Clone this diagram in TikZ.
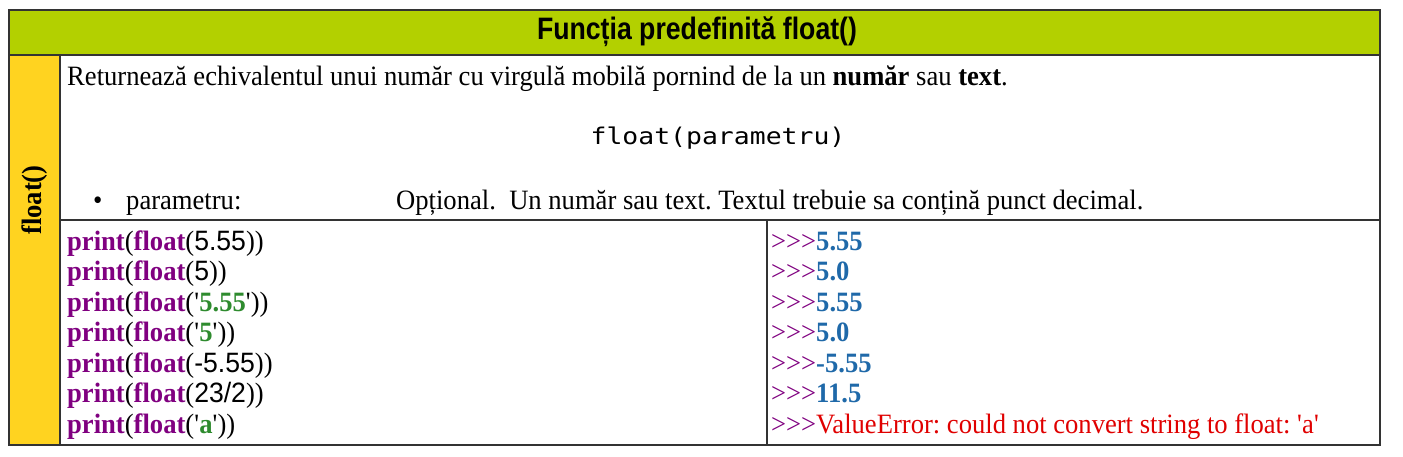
\documentclass[tikz,border=0pt]{standalone}
\usepackage{fontspec}
\setmainfont[FakeStretch=0.95]{Liberation Serif}
\setsansfont[FakeStretch=0.95]{Liberation Sans}
\setmonofont[FakeStretch=1.15]{DejaVu Sans Mono}
\newfontfamily\hdrfont[FakeStretch=0.86]{Liberation Sans}
\definecolor{hdrgreen}{HTML}{B3D000}
\definecolor{sideyellow}{HTML}{FFD320}
\definecolor{kwpurple}{HTML}{800080}
\definecolor{strgreen}{HTML}{2E8B2E}
\definecolor{outblue}{HTML}{1F69A9}
\definecolor{errred}{HTML}{E00000}
\definecolor{rulegray}{HTML}{333333}
\newcommand{\kw}[1]{\textcolor{kwpurple}{\textbf{#1}}}
\newcommand{\st}[1]{\textcolor{strgreen}{\textbf{#1}}}
\newcommand{\nm}[1]{{\sffamily #1}}
\newcommand{\pr}{\textcolor{kwpurple}{>{}>{}>}}
\newcommand{\ob}[1]{\textcolor{outblue}{\textbf{#1}}}
\newcommand{\q}{\textquotesingle}
\begin{document}
\frenchspacing
\begin{tikzpicture}[x=1pt,y=-1pt,
  txt/.style={inner sep=0pt,anchor=base west,font=\fontsize{28}{30}\selectfont},
  rulel/.style={draw=rulegray,line width=1.2pt}]
\useasboundingbox (0,0) rectangle (1403,456);
\fill[white] (0,0) rectangle (1403,456);
% fills
\fill[hdrgreen] (9,10) rectangle (1380,55);
\fill[sideyellow] (9,55) rectangle (60,445);
% rules
\draw[rulel] (9,10) rectangle (1380,445);
\draw[rulel] (9,55) -- (1380,55);
\draw[rulel] (60,55) -- (60,445);
\draw[rulel] (60,220) -- (1380,220);
\draw[rulel] (767,220) -- (767,445);
% header
\node[inner sep=0pt,font=\hdrfont\bfseries\fontsize{31}{34}\selectfont] (hdr) at (697,32) {Funcția predefinită float()};
% side label
\node[inner sep=0pt,rotate=90,font=\bfseries\fontsize{28}{30}\selectfont] (side) at (35,200) {float()};
% description
\node[txt] (d1) at (67,85.5) {Returnează echivalentul unui număr cu virgulă mobilă pornind de la un \textbf{număr} sau \textbf{text}.};
\node[inner sep=0pt,anchor=base,font=\ttfamily\fontsize{23}{26}\selectfont] (syn) at (718,144) {float(parametru)};
\node[txt] (b1) at (93,209) {\textbullet};
\node[txt] (b2) at (126,209) {parametru:};
\node[txt] (b3) at (396,209) {Opțional.\ \ Un număr sau text. Textul trebuie sa conțină punct decimal.};
% code
\node[txt] (c1) at (67,250) {\kw{print}(\kw{float}(\nm{5.55}))};
\node[txt] (c2) at (67,280.5) {\kw{print}(\kw{float}(\nm{5}))};
\node[txt] (c3) at (67,311) {\kw{print}(\kw{float}(\q\st{5.55}\q))};
\node[txt] (c4) at (67,341.5) {\kw{print}(\kw{float}(\q\st{5}\q))};
\node[txt] (c5) at (67,372) {\kw{print}(\kw{float}(\nm{-5.55}))};
\node[txt] (c6) at (67,402.5) {\kw{print}(\kw{float}(\nm{23/2}))};
\node[txt] (c7) at (67,433) {\kw{print}(\kw{float}(\q\st{a}\q))};
% output
\node[txt] (o1) at (771,250) {\pr\ob{5.55}};
\node[txt] (o2) at (771,280.5) {\pr\ob{5.0}};
\node[txt] (o3) at (771,311) {\pr\ob{5.55}};
\node[txt] (o4) at (771,341.5) {\pr\ob{5.0}};
\node[txt] (o5) at (771,372) {\pr\ob{-5.55}};
\node[txt] (o6) at (771,402.5) {\pr\ob{11.5}};
\node[txt] (o7) at (771,433) {\pr\textcolor{errred}{ValueError: could not convert string to float: \q a\q}};
\end{tikzpicture}
\end{document}
